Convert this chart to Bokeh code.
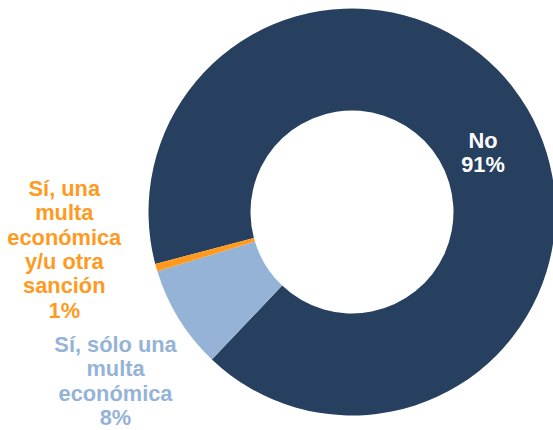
import numpy as np
from bokeh.plotting import figure
from bokeh.models import Range1d, ColumnDataSource
from bokeh.embed import file_html
from bokeh.resources import INLINE
from bokeh.core.properties import value

# ---- data ----
categories = ["No", "Sí, sólo una multa económica", "Sí, una multa económica y/u otra sanción"]
shares = [91.2, 8.2, 0.6]
label_texts = ["No\n91%", "Sí, sólo una\nmulta\neconómica\n8%",
               "Sí, una\nmulta\neconómica\ny/u otra\nsanción\n1%"]
slice_colors = ["#27405F", "#95B3D7", "#FF9A1F"]
label_colors = ["#FFFFFF", "#95B3D7", "#FF9A1F"]

# ---- layout (page pixel coordinates, y pointing up, origin top-left) ----
W, H = 553, 430
cx, cy = 351.5, -211.5
r_out, r_in = 203.5, 101.5
first_slice_cw_deg = 255.2          # start of first slice, clockwise from 12 o'clock
label_anchor = [(482.5, -139.5), (115.0, -344.0), (63.8, -188.0)]  # centre x, first line
line_step = 24.3

vals = np.array(shares, dtype=float)
frac = vals / vals.sum()
cum_end = np.cumsum(frac)
cum_start = cum_end - frac
start = np.radians(90 - (first_slice_cw_deg + 360 * cum_start))
end = np.radians(90 - (first_slice_cw_deg + 360 * cum_end))

src = ColumnDataSource(dict(cat=categories, start=start, end=end, color=slice_colors))

p = figure(width=W, height=H, x_range=Range1d(0, W), y_range=Range1d(-H, 0),
           output_backend="svg", toolbar_location=None, min_border=0,
           background_fill_color="white", border_fill_color="white")
p.axis.visible = False
p.grid.visible = False
p.outline_line_color = None

p.annular_wedge(x=cx, y=cy, inner_radius=r_in, outer_radius=r_out,
                start_angle="start", end_angle="end", direction="clock",
                fill_color="color", line_color=None, source=src)

xs, ys, ts, cs = [], [], [], []
for txt, (ax, ay), col in zip(label_texts, label_anchor, label_colors):
    for i, line in enumerate(txt.split("\n")):
        xs.append(ax)
        ys.append(ay - i * line_step)
        ts.append(line)
        cs.append(col)

lsrc = ColumnDataSource(dict(x=xs, y=ys, text=ts, color=cs))
p.text(x="x", y="y", text="text", text_color="color", source=lsrc,
       text_align="center", text_baseline="alphabetic",
       text_font=value("Liberation Sans"), text_font_style="bold",
       text_font_size="21.8px")

open("out.html", "w").write(file_html(p, INLINE))
